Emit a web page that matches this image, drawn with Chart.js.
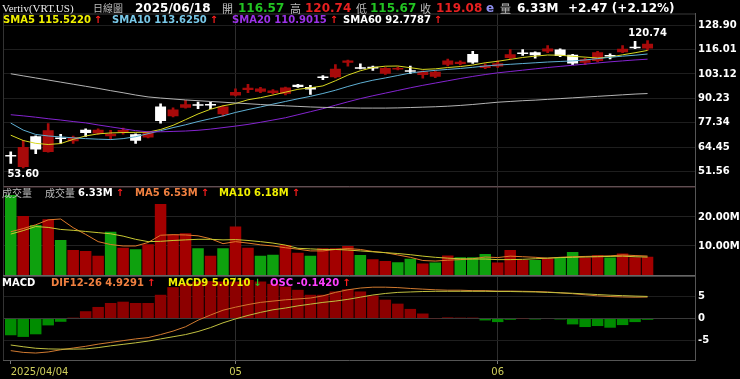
<!DOCTYPE html>
<html>
<head>
<meta charset="utf-8">
<script src="https://cdn.jsdelivr.net/npm/chart.js@4.4.1/dist/chart.umd.min.js"></script>
<style>
  html, body { margin: 0; padding: 0; background: #000; }
  #wrap { position: relative; width: 740px; height: 379px; overflow: hidden; background: #000; font-family: "DejaVu Sans", sans-serif; }
  canvas { position: absolute; left: 0; }
  .t { position: absolute; white-space: nowrap; font-weight: bold; font-size: 10px; line-height: 12px; }
  .h { position: absolute; white-space: nowrap; font-weight: bold; font-size: 12px; line-height: 14px; top: 1px; }
  .cjk { font-family: "Noto Sans CJK TC", sans-serif; font-weight: normal; color: #bdbdbd; font-size: 11px; }
  .up { color: #ff1f1f; margin-left: 3px; }
  .dn { color: #22d022; margin-left: 3px; }
</style>
</head>
<body>
<div id="wrap">
  <canvas id="cMain" width="740" height="200" style="top:0px"></canvas>
  <canvas id="cVol" width="740" height="114" style="top:176px"></canvas>
  <canvas id="cMacd" width="740" height="114" style="top:266px"></canvas>

  <div class="h" style="left:2px;font-family:'Liberation Serif',serif;font-weight:normal;font-size:11px;color:#eee">Vertiv(VRT.US)</div>
  <div class="h cjk" style="left:93px;font-size:10px">日線圖</div>
  <div class="h" style="left:135px;color:#fff">2025/06/18</div>
  <div class="h cjk" style="left:222px">開</div>
  <div class="h" style="left:238px;color:#22c422">116.57</div>
  <div class="h cjk" style="left:290px">高</div>
  <div class="h" style="left:305px;color:#e82020">120.74</div>
  <div class="h cjk" style="left:356px">低</div>
  <div class="h" style="left:370px;color:#22c422">115.67</div>
  <div class="h cjk" style="left:420px">收</div>
  <div class="h" style="left:436px;color:#e82020">119.08</div>
  <div class="h" style="left:486px;color:#8f8ff0">e</div>
  <div class="h cjk" style="left:500px">量</div>
  <div class="h" style="left:517px;color:#fff">6.33M</div>
  <div class="h" style="left:568px;color:#fff">+2.47 (+2.12%)</div>

  <div class="t" style="left:3px;top:14px;color:#f0f000">SMA5 115.5220<span class="up">↑</span></div>
  <div class="t" style="left:112px;top:14px;color:#78c8e8">SMA10 113.6250<span class="up">↑</span></div>
  <div class="t" style="left:232px;top:14px;color:#9b32e6">SMA20 110.9015<span class="up">↑</span></div>
  <div class="t" style="left:343px;top:14px;color:#fff">SMA60 92.7787<span class="up">↑</span></div>

  <div class="t cjk" style="left:2px;top:187px;font-size:10px">成交量</div>
  <div class="t cjk" style="left:45px;top:187px;font-size:10px">成交量</div>
  <div class="t" style="left:78px;top:187px;color:#fff">6.33M<span class="up">↑</span></div>
  <div class="t" style="left:135px;top:187px;color:#f08040">MA5 6.53M<span class="up">↑</span></div>
  <div class="t" style="left:219px;top:187px;color:#f0f000">MA10 6.18M<span class="up">↑</span></div>

  <div class="t" style="left:2px;top:277px;color:#fff">MACD</div>
  <div class="t" style="left:51px;top:277px;color:#f08040">DIF12-26 4.9291<span class="up">↑</span></div>
  <div class="t" style="left:168px;top:277px;color:#f0f000">MACD9 5.0710<span class="dn">↓</span></div>
  <div class="t" style="left:270px;top:277px;color:#ff40ff">OSC -0.1420<span class="up">↑</span></div>
</div>

<script>
const dates = [
  "2025/04/04", "2025/04/07", "2025/04/08", "2025/04/09", "2025/04/10", "2025/04/11",
  "2025/04/14", "2025/04/15", "2025/04/16", "2025/04/17",
  "2025/04/21", "2025/04/22", "2025/04/23", "2025/04/24", "2025/04/25",
  "2025/04/28", "2025/04/29", "2025/04/30", "2025/05/01", "2025/05/02",
  "2025/05/05", "2025/05/06", "2025/05/07", "2025/05/08", "2025/05/09",
  "2025/05/12", "2025/05/13", "2025/05/14", "2025/05/15", "2025/05/16",
  "2025/05/19", "2025/05/20", "2025/05/21", "2025/05/22", "2025/05/23",
  "2025/05/27", "2025/05/28", "2025/05/29", "2025/05/30",
  "2025/06/02", "2025/06/03", "2025/06/04", "2025/06/05", "2025/06/06",
  "2025/06/09", "2025/06/10", "2025/06/11", "2025/06/12", "2025/06/13",
  "2025/06/16", "2025/06/17", "2025/06/18"
];

const opens = [59.9, 54.0, 70.2, 62.0, 69.3, 67.6, 73.7, 71.7, 70.3, 72.3, 71.3, 69.6, 86.0, 80.8, 85.3, 86.7, 86.8, 81.8,
  91.8, 94.6, 93.7, 93.0, 92.7, 97.4, 96.2, 101.5, 101.4, 109.0, 106.3, 106.9, 103.2, 105.5, 104.7, 102.5, 101.6,
  108.0, 108.3, 113.7, 106.3, 107.0, 111.5, 114.2, 114.6, 115.0, 116.0, 113.2, 109.0, 110.0, 113.0, 114.6, 117.0, 116.57];
const highs = [62.0, 68.1, 70.5, 76.9, 71.3, 70.3, 74.1, 74.2, 73.4, 74.6, 71.5, 72.8, 87.4, 85.3, 89.2, 88.3, 88.3, 86.3,
  95.3, 97.6, 96.0, 94.8, 96.2, 97.6, 97.1, 102.3, 108.1, 110.4, 108.5, 107.2, 106.5, 106.8, 107.2, 104.8, 104.8,
  110.9, 110.0, 115.0, 108.5, 110.0, 116.0, 116.0, 114.8, 118.1, 116.3, 113.4, 111.3, 115.1, 113.7, 118.1, 120.3, 120.74];
const lows = [55.9, 53.60, 61.1, 61.8, 66.4, 66.4, 70.2, 71.2, 68.5, 71.4, 66.4, 69.3, 77.2, 80.5, 85.0, 84.8, 84.8, 80.8,
  91.5, 93.2, 93.3, 92.6, 92.0, 96.0, 92.3, 100.1, 101.0, 107.2, 105.7, 105.0, 102.8, 105.2, 103.2, 100.9, 101.2,
  107.3, 107.9, 108.6, 105.9, 106.6, 111.1, 112.9, 111.4, 114.4, 112.2, 108.0, 108.0, 109.5, 111.1, 114.3, 116.4, 115.67];
const closes = [59.6, 64.6, 63.2, 73.4, 68.8, 69.9, 72.0, 73.7, 71.6, 73.6, 67.9, 72.5, 78.3, 84.3, 87.1, 86.4, 86.5, 86.0,
  93.6, 95.8, 95.5, 94.4, 95.9, 96.2, 94.9, 101.0, 105.9, 110.2, 105.9, 106.0, 106.2, 106.0, 104.3, 104.4, 104.3,
  110.2, 109.5, 109.1, 107.6, 108.8, 113.5, 113.6, 113.0, 116.5, 112.6, 108.6, 110.8, 114.6, 112.3, 116.4, 116.61, 119.08];

const sma5 = [70.8, 68.0, 66.5, 65.9, 66.4, 68.6, 70.4, 71.5, 72.0, 72.2, 72.3, 72.4, 73.8, 76.0, 79.0, 82.0, 84.5, 86.3,
  87.5, 89.5, 90.6, 92.0, 93.5, 95.0, 95.8, 96.8, 99.5, 102.5, 104.8, 106.5, 107.2, 107.3, 106.4, 105.5, 105.8,
  106.5, 107.0, 107.8, 109.0, 109.8, 110.8, 111.8, 112.5, 113.1, 113.0, 112.4, 112.0, 111.5, 112.0, 113.2, 114.3, 115.52];
const sma10 = [77.2, 73.5, 71.2, 70.4, 69.9, 69.4, 69.0, 68.7, 68.5, 69.0, 70.0, 71.6, 73.2, 74.8, 76.3, 78.0, 79.5, 81.0,
  82.8, 84.3, 85.7, 87.2, 88.6, 90.0, 91.3, 92.8, 94.5, 96.5, 98.3, 99.8, 101.0, 102.3, 103.6, 104.4, 105.0,
  105.5, 106.0, 106.6, 107.3, 107.8, 108.2, 108.6, 109.0, 109.4, 109.7, 110.0, 110.5, 111.2, 111.9, 112.5, 113.0, 113.63];
const sma20 = [81.6, 81.0, 80.3, 79.5, 78.8, 78.0, 77.3, 76.2, 75.2, 74.2, 73.2, 72.6, 72.6, 72.8, 73.0, 73.4, 74.0, 74.8,
  75.6, 76.5, 77.6, 78.8, 80.0, 81.6, 83.2, 84.8, 86.6, 88.4, 90.1, 91.6, 93.0, 94.4, 95.8, 97.1, 98.3,
  99.5, 100.7, 101.8, 102.8, 103.7, 104.4, 105.1, 105.8, 106.5, 107.1, 107.7, 108.3, 108.9, 109.5, 110.0, 110.5, 110.9];
const sma60 = [103.2, 102.1, 101.0, 99.9, 98.8, 97.7, 96.6, 95.5, 94.3, 93.2, 92.0, 91.0, 90.4, 89.9, 89.4, 89.0, 88.6, 88.2,
  87.8, 87.4, 87.0, 86.6, 86.3, 86.0, 85.7, 85.5, 85.3, 85.2, 85.1, 85.1, 85.1, 85.2, 85.4, 85.6, 85.8,
  86.1, 86.5, 87.0, 87.6, 88.2, 88.6, 89.0, 89.3, 89.7, 90.1, 90.5, 90.9, 91.3, 91.7, 92.1, 92.5, 92.78];

// volume in millions
const volumes = [27.6, 20.3, 17.2, 19.2, 12.1, 8.6, 8.3, 6.6, 14.9, 9.4, 8.9, 10.6, 24.5, 14.0, 14.4, 9.2, 6.6, 9.2,
  16.7, 9.4, 6.6, 7.0, 10.3, 7.7, 6.6, 9.2, 9.2, 10.0, 6.9, 5.4, 4.8, 4.4, 5.6, 4.0, 4.3,
  6.7, 6.1, 6.1, 7.2, 4.3, 8.6, 5.2, 5.2, 5.7, 6.1, 7.9, 6.0, 6.8, 6.0, 7.4, 6.1, 6.33];
const volMa5 = [14.9, 16.0, 17.3, 19.0, 19.3, 16.3, 14.0, 11.5, 10.5, 10.0, 10.0, 11.2, 13.7, 13.9, 13.8, 13.5, 12.5, 10.8,
  11.5, 11.0, 10.4, 10.0, 9.4, 8.9, 8.3, 8.3, 8.8, 9.1, 8.8, 8.1, 7.7, 6.9, 6.1, 5.0, 4.8,
  5.1, 5.3, 5.6, 6.2, 6.0, 6.5, 6.3, 6.1, 5.8, 6.1, 6.3, 6.4, 6.5, 6.6, 6.9, 6.7, 6.53];
const volMa10 = [14.1, 15.3, 16.7, 16.4, 15.7, 15.4, 15.0, 14.6, 14.2, 13.4, 12.3, 11.5, 11.6, 11.9, 12.1, 12.3, 12.3, 12.1,
  12.2, 11.9, 11.5, 11.0, 10.3, 9.2, 9.0, 8.8, 8.8, 8.6, 8.3, 8.0, 7.7, 7.4, 7.0, 6.5, 6.1,
  5.8, 5.6, 5.5, 5.5, 5.3, 5.3, 5.4, 5.6, 5.8, 6.0, 6.1, 6.2, 6.3, 6.4, 6.5, 6.3, 6.18];

const dif = [-7.4, -7.8, -7.95, -7.7, -7.2, -6.8, -6.4, -5.9, -5.5, -5.1, -4.7, -4.4, -3.7, -2.9, -1.9, -0.4, 0.8, 1.9,
  2.6, 3.2, 3.7, 4.0, 4.3, 4.5, 4.7, 5.2, 6.0, 6.6, 7.0, 7.2, 7.2, 7.1, 6.9, 6.75, 6.6,
  6.5, 6.5, 6.4, 6.4, 6.3, 6.3, 6.25, 6.2, 6.1, 5.9, 5.7, 5.45, 5.2, 5.05, 4.95, 4.9, 4.93];
const macd9 = [-6.1, -6.5, -6.85, -7.0, -7.05, -7.05, -7.0, -6.7, -6.3, -5.95, -5.6, -5.2, -4.7, -4.2, -3.7, -3.0, -2.1, -1.0,
  -0.1, 0.7, 1.4, 2.0, 2.4, 2.9, 3.3, 3.7, 4.0, 4.4, 4.9, 5.4, 5.75, 6.0, 6.1, 6.2, 6.25,
  6.25, 6.25, 6.25, 6.25, 6.2, 6.2, 6.15, 6.1, 6.0, 5.9, 5.8, 5.65, 5.5, 5.35, 5.25, 5.15, 5.07];
const osc = [-3.86, -4.24, -3.64, -1.59, -0.76, 0.2, 1.67, 2.65, 3.56, 3.86, 3.56, 3.56, 5.45, 7.2, 8.1, 8.5, 8.6, 8.5,
  8.5, 8.86, 8.5, 7.96, 7.35, 6.59, 5.45, 5.45, 6.21, 6.74, 6.21, 5.3, 4.32, 3.41, 2.2, 1.14, 0.05,
  0.25, 0.2, 0.2, -0.45, -0.83, -0.3, 0.05, -0.23, 0.1, -0.23, -1.36, -1.97, -1.74, -2.12, -1.52, -0.83, -0.3];

const priceTicks = [51.56, 58.01, 64.45, 70.90, 77.34, 83.79, 90.23, 96.68, 103.12, 109.57, 116.01, 122.46, 128.90];
const volTicks = [10, 20];
const macdTicks = [-5, 0, 5];
const monthLabels = ["2025/04/04", "05", "06"];

// first trading day of each month
const monthIdx = dates.map((d, i) => i).filter(i => i === 0 || dates[i].slice(5, 7) !== dates[i - 1].slice(5, 7));

const X_MIN = -0.62;
const X_MAX = 54.8;
const RED = "#a80a0a";
const WHITE = "#ffffff";

Chart.defaults.font.family = "DejaVu Sans";
Chart.defaults.animation = false;
Chart.defaults.events = [];
Chart.defaults.plugins.legend.display = false;
Chart.defaults.plugins.tooltip.enabled = false;

const pts = arr => arr.map((v, i) => ({ x: i, y: v }));
const isUp = i => closes[i] > opens[i];
const volUp = i => (i === 0 ? closes[0] >= opens[0] : closes[i] >= closes[i - 1]);

function xAxis(showLabels) {
  return {
    type: "linear",
    min: X_MIN,
    max: X_MAX,
    offset: false,
    afterBuildTicks: s => {
      s.ticks = monthIdx.map(v => ({ value: v })).concat([{ value: X_MAX }]);
    },
    grid: {
      offset: false,
      color: c => (c.tick && c.tick.value > 0 && c.tick.value !== X_MAX ? "#2e2e2e" : "rgba(0,0,0,0)"),
      tickColor: c => (c.tick && c.tick.value !== X_MAX ? "#777" : "rgba(0,0,0,0)"),
      drawTicks: showLabels,
      tickLength: 4
    },
    border: { display: true, color: showLabels ? "#555" : "#666" },
    ticks: {
      display: showLabels,
      autoSkip: false,
      maxRotation: 0,
      align: "inner",
      padding: 2,
      color: "#cfcf5c",
      font: { size: 10 },
      callback: v => {
        const k = monthIdx.indexOf(v);
        return k >= 0 ? monthLabels[k] : "";
      }
    }
  };
}

function yAxis(min, max, ticks, fmt, gridColor) {
  return {
    position: "right",
    min: min,
    max: max,
    afterBuildTicks: s => {
      s.ticks = ticks.map(v => ({ value: v }));
    },
    afterFit: s => {
      s.width = 45;
    },
    grid: { color: gridColor, drawTicks: false },
    border: { display: true, color: "#555" },
    ticks: { color: "#fff", padding: 3, font: { size: 10, weight: "bold" }, callback: fmt }
  };
}

function frame(color) {
  return {
    id: "frame",
    beforeDatasetsDraw(chart) {
      const { ctx, chartArea: a } = chart;
      ctx.save();
      ctx.lineWidth = 1;
      ctx.strokeStyle = color;
      ctx.beginPath();
      ctx.moveTo(a.left, a.top + 0.5);
      ctx.lineTo(a.right, a.top + 0.5);
      ctx.stroke();
      ctx.strokeStyle = "#333";
      ctx.beginPath();
      ctx.moveTo(a.left + 0.5, a.top);
      ctx.lineTo(a.left + 0.5, a.bottom);
      ctx.stroke();
      ctx.restore();
    }
  };
}

const extremes = {
  id: "extremes",
  afterDatasetsDraw(chart) {
    const { ctx, scales: { x, y } } = chart;
    let hi = 0, lo = 0;
    highs.forEach((v, i) => { if (v > highs[hi]) hi = i; });
    lows.forEach((v, i) => { if (v < lows[lo]) lo = i; });
    ctx.save();
    ctx.font = "bold 10px 'DejaVu Sans'";
    ctx.fillStyle = "#fff";
    ctx.textAlign = "center";
    ctx.textBaseline = "bottom";
    ctx.fillText(highs[hi].toFixed(2), x.getPixelForValue(hi), y.getPixelForValue(highs[hi]) - 2);
    ctx.textBaseline = "top";
    ctx.fillText(lows[lo].toFixed(2), x.getPixelForValue(lo), y.getPixelForValue(lows[lo]) + 2);
    ctx.restore();
  }
};

function line(data, color, order) {
  return { type: "line", data: pts(data), borderColor: color, borderWidth: 1, pointRadius: 0, order: order };
}

new Chart(document.getElementById("cMain"), {
  type: "bar",
  data: {
    datasets: [
      line(sma60, "#b4b4b4", 0),
      line(sma20, "#8424d0", 0),
      line(sma10, "#5fb0d4", 0),
      line(sma5, "#d8d820", 0),
      {
        data: dates.map((d, i) => ({ x: i, y: [opens[i], closes[i]] })),
        backgroundColor: c => (isUp(c.dataIndex) ? RED : WHITE),
        barPercentage: 0.88,
        categoryPercentage: 1,
        minBarLength: 1.5,
        grouped: false,
        order: 1
      },
      {
        data: dates.map((d, i) => ({ x: i, y: [lows[i], highs[i]] })),
        backgroundColor: c => (isUp(c.dataIndex) ? RED : WHITE),
        barThickness: 2,
        grouped: false,
        order: 2
      }
    ]
  },
  options: {
    responsive: false,
    layout: { padding: { left: 3, right: 0, top: 13.5, bottom: 14 } },
    scales: {
      x: xAxis(false),
      y: yAxis(44, 135, priceTicks, v => v.toFixed(2), "#1e1e1e")
    }
  },
  plugins: [frame("#3a3a3a"), extremes]
});

new Chart(document.getElementById("cVol"), {
  type: "bar",
  data: {
    datasets: [
      line(volMa10, "#c8c832", 0),
      line(volMa5, "#e07a2a", 0),
      {
        data: pts(volumes),
        backgroundColor: c => (volUp(c.dataIndex) ? "#a30000" : "#0ea10e"),
        barPercentage: 0.92,
        categoryPercentage: 1,
        grouped: false,
        order: 1
      }
    ]
  },
  options: {
    responsive: false,
    layout: { padding: { left: 3, right: 0, top: 10.5, bottom: 15 } },
    scales: {
      x: xAxis(false),
      y: yAxis(0, 30.5, volTicks, v => v.toFixed(2) + "M", "#222")
    }
  },
  plugins: [frame("#5a3a40")]
});

new Chart(document.getElementById("cMacd"), {
  type: "bar",
  data: {
    datasets: [
      line(macd9, "#c0c040", 0),
      line(dif, "#d07a30", 0),
      {
        data: pts(osc),
        backgroundColor: c => (osc[c.dataIndex] >= 0 ? "#8c0000" : "#008c00"),
        barPercentage: 0.92,
        categoryPercentage: 1,
        grouped: false,
        order: 1
      }
    ]
  },
  options: {
    responsive: false,
    layout: { padding: { left: 3, right: 0, top: 10, bottom: 0 } },
    scales: {
      x: xAxis(true),
      y: yAxis(-9.55, 9.77, macdTicks, v => String(v), c => (c.tick && c.tick.value === 0 ? "#3a3a3a" : "#1e1e1e"))
    }
  },
  plugins: [frame("#444")]
});
</script>
</body>
</html>
